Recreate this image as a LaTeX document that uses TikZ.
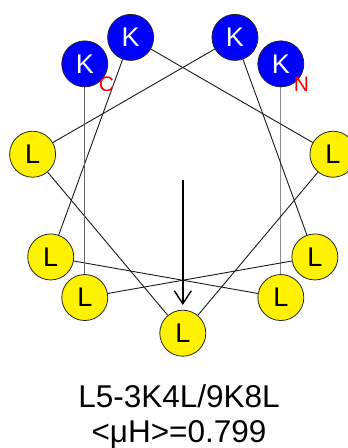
\documentclass[tikz,border=0pt]{standalone}
\usepackage{fontspec}
\setmainfont{Liberation Sans}
\usetikzlibrary{arrows.meta}
\pgfdeclarelayer{bg}
\pgfsetlayers{bg,main}
\begin{document}
\begin{tikzpicture}[x=1pt,y=-1pt,
  res/.style={circle,draw=black!85,line width=0.8pt,minimum size=46pt,inner sep=0pt,
              font=\fontsize{27}{27}\selectfont},
  lys/.style={res,fill=blue,text=white},
  leu/.style={res,fill=yellow,text=black},
  link/.style={line width=0.9pt,black!90},
  vlink/.style={line width=1.2pt,black!45},
  term/.style={text=red,inner sep=0pt,font=\fontsize{21}{21}\selectfont},
  caption/.style={anchor=base,inner sep=0pt,font=\fontsize{31.5}{31.5}\selectfont}]
\useasboundingbox (0,0) rectangle (348,448);
\def\cx{182.8}
\def\cy{180.7}
\def\R{152.5}
% residues on the wheel, 100 degrees apart
\foreach \i/\t/\s in {0/K/lys,1/L/leu,2/L/leu,3/K/lys,4/L/leu,5/L/leu,
                      6/L/leu,7/K/lys,8/L/leu,9/L/leu,10/K/lys}{
  \pgfmathsetmacro\ph{140-100*\i}
  \node[\s] (r\i) at ({\cx+\R*sin(\ph)},{\cy+\R*cos(\ph)}) {\t};
}
% backbone links between consecutive residues
\begin{pgfonlayer}{bg}
  \draw[vlink] (r0) -- (r1);
  \draw[link] (r1) -- (r2);
  \draw[link] (r2) -- (r3);
  \draw[link] (r3) -- (r4);
  \draw[link] (r4) -- (r5);
  \draw[link] (r5) -- (r6);
  \draw[link] (r6) -- (r7);
  \draw[link] (r7) -- (r8);
  \draw[link] (r8) -- (r9);
  \draw[vlink,black!60] (r9) -- (r10);
\end{pgfonlayer}
% termini
\node[term] (nterm) at (301.5,84.5) {N};
\node[term] (cterm) at (106.5,84.5) {C};
% hydrophobic moment
\coordinate (ctr) at (182.8,180);
\coordinate (tip) at (182.8,305);
\draw[line width=1.4pt,-{Straight Barb[length=13pt,width=17pt]}] (ctr) -- (tip);
% caption
\node[caption] (cap1) at (179,407) {L5-3K4L/9K8L};
\node[caption] (cap2) at (179,442) {<μH>=0.799};
\end{tikzpicture}
\end{document}
